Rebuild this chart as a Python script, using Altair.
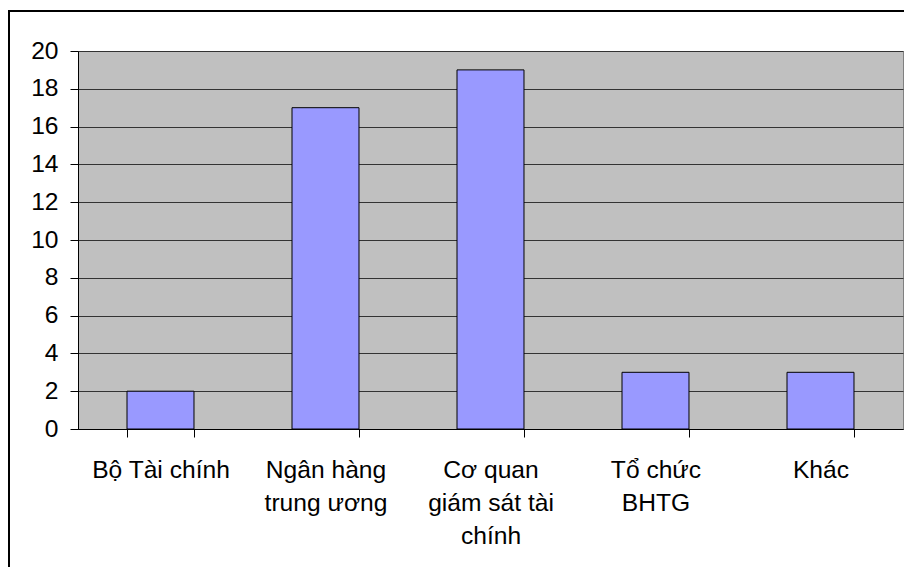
import altair as alt
import pandas as pd

categories = ["Bộ Tài chính", "Ngân hàng trung ương", "Cơ quan giám sát tài chính", "Tổ chức BHTG", "Khác"]
values = [2, 17, 19, 3, 3]
wrapped = ["Bộ Tài chính", "Ngân hàng|trung ương", "Cơ quan|giám sát tài|chính", "Tổ chức|BHTG", "Khác"]
y_ticks = [0, 2, 4, 6, 8, 10, 12, 14, 16, 18, 20]

df = pd.DataFrame({"category": categories, "value": values})

expr = "''"
for c, w in zip(reversed(categories), reversed(wrapped)):
    expr = f"datum.label == '{c}' ? '{w}' : ({expr})"
label_expr = f"split({expr}, '|')"

FONT = "Liberation Sans"
FS = 24.6

bars = alt.Chart(df).mark_bar(fill="#9999FF", stroke="#000000", strokeWidth=1).encode(
    x=alt.X("category:N", sort=categories, title=None,
            scale=alt.Scale(paddingInner=0.594, paddingOuter=0.297),
            axis=alt.Axis(labelAngle=0, labelExpr=label_expr, labelFont=FONT, labelFontSize=FS,
                          labelColor="#000000", labelLineHeight=33, labelBaseline="alphabetic",
                          labelPadding=40, tickSize=8, tickColor="#000000", domainColor="#000000",
                          tickBand="extent", grid=False, labelLimit=200)),
    y=alt.Y("value:Q", title=None, scale=alt.Scale(domain=[0, 20], nice=False),
            axis=alt.Axis(values=y_ticks, labelFont=FONT, labelFontSize=FS, labelColor="#000000",
                          labelPadding=12, tickSize=8, tickColor="#000000", domainColor="#000000",
                          gridColor="#333333", gridWidth=1, gridOpacity=1)),
)

border = alt.Chart(alt.Data(values=[{}])).mark_rect(fill=None, stroke="#000000", strokeWidth=2).encode(
    x=alt.value(-69), x2=alt.value(840), y=alt.value(-40), y2=alt.value(600)
)

chart = alt.layer(bars, border).properties(
    width=825, height=378,
    autosize=alt.AutoSizeParams(type="none"),
    padding={"left": 78, "top": 51, "right": 1, "bottom": 138},
    background="#FFFFFF",
).configure_view(fill="#C0C0C0", stroke="#808080", strokeWidth=1)

chart.save("out.html", embed_options={"renderer": "svg", "actions": False})
